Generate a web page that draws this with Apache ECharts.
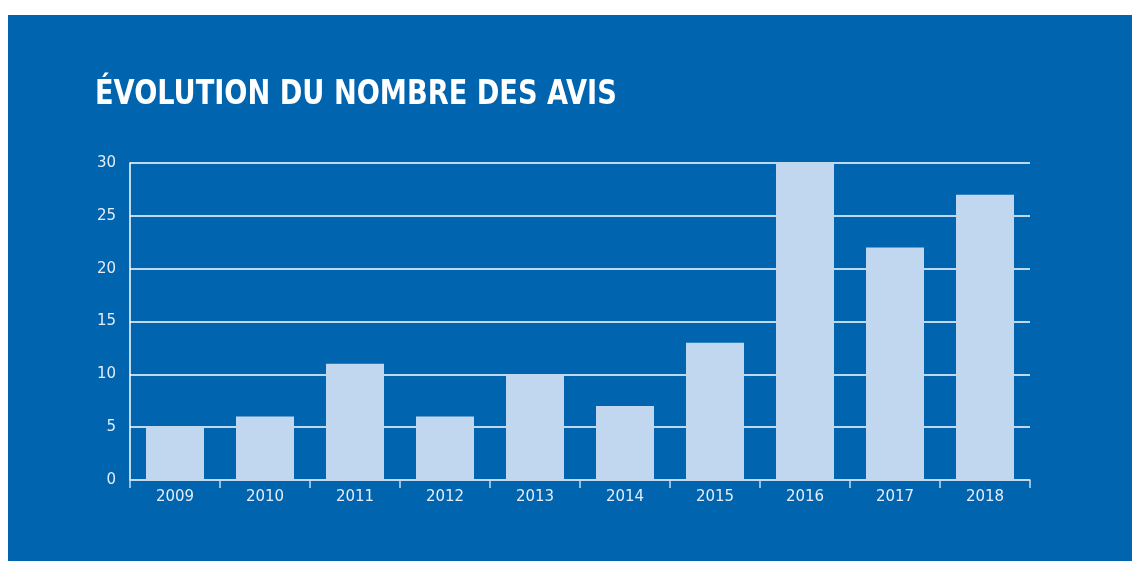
<!DOCTYPE html>
<html>
<head>
<meta charset="utf-8">
<script src="https://cdn.jsdelivr.net/npm/echarts@6/dist/echarts.min.js"></script>
<style>
  html, body { margin: 0; padding: 0; background: #fff; }
  #bg { position: absolute; left: 8px; top: 15px; width: 1124px; height: 546px; background: #0064AF; }
  #chart { position: absolute; left: 0; top: 0; width: 1132px; height: 561px; }
</style>
</head>
<body>
<div id="bg"></div>
<div id="chart"></div>
<script>
// données du graphique
var years = ['2009', '2010', '2011', '2012', '2013', '2014', '2015', '2016', '2017', '2018'];
var avis = [5, 6, 11, 6, 10, 7, 13, 30, 22, 27];
var titre = 'ÉVOLUTION DU NOMBRE DES AVIS';

var myChart = echarts.init(document.getElementById('chart'));

var option = {
  backgroundColor: 'transparent',
  animation: false,
  // titre condensé : texte resserré horizontalement
  graphic: [{
    type: 'text',
    left: 95,
    top: 78,
    scaleX: 0.89,
    style: {
      text: titre,
      fill: '#ffffff',
      font: 'bold 34px "DejaVu Sans Condensed", "Liberation Sans Narrow", sans-serif'
    }
  }],
  grid: { left: 130, right: 102, top: 163, bottom: 81, containLabel: false },
  xAxis: {
    type: 'category',
    data: years,
    axisLine: { show: true, lineStyle: { color: '#c8daf0', width: 1.5 } },
    axisTick: { show: true, interval: 0, length: 8, lineStyle: { color: '#c8daf0', width: 1.5 } },
    axisLabel: { color: '#e4edf8', fontSize: 15, margin: 10, fontFamily: '"DejaVu Sans", sans-serif' }
  },
  yAxis: {
    type: 'value',
    min: 0,
    max: 30,
    interval: 5,
    axisLine: { show: true, lineStyle: { color: '#ffffff', width: 1.5 } },
    axisTick: { show: false },
    splitLine: { show: true, lineStyle: { color: '#ffffff', width: 1.5 } },
    axisLabel: { color: '#e4edf8', fontSize: 15, margin: 14, fontFamily: '"DejaVu Sans", sans-serif' }
  },
  series: [{
    type: 'bar',
    data: avis,
    barWidth: 58,
    itemStyle: { color: '#C1D7F0' }
  }]
};

myChart.setOption(option);
</script>
</body>
</html>
